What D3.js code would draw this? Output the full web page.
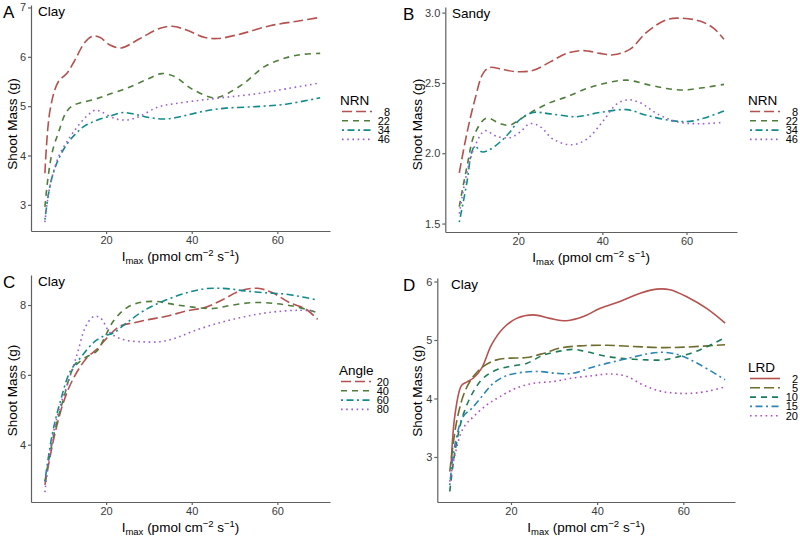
<!DOCTYPE html>
<html><head><meta charset="utf-8">
<script src="https://cdn.jsdelivr.net/npm/d3@7"></script>
<style>body{margin:0;background:#fff}svg{display:block}text{font-family:"Liberation Sans",Arial,sans-serif}</style>
</head><body>
<svg id="c" width="800" height="537"></svg>
<script>
// ---------- DATA ----------
const xTicks = [20, 40, 60];
const ticksA = [3, 4, 5, 6, 7];
const ticksB = [1.5, 2.0, 2.5, 3.0];
const ticksC = [4, 6, 8];
const ticksD = [3, 4, 5, 6];

const legendNRN = ["8", "22", "34", "46"];
const legendAngle = ["20", "40", "60", "80"];
const legendLRD = ["2", "5", "10", "15", "20"];

// Panel A (Clay, NRN)
const A_8  = [[5.7,3.64],[6.9,4.92],[8.8,5.49],[10.9,5.67],[12.5,5.9],[15.1,6.3],[16.9,6.42],[18.6,6.39],[20.9,6.24],[23.5,6.18],[27.9,6.37],[32.6,6.58],[35.4,6.62],[38.6,6.55],[43.1,6.39],[46.1,6.37],[51.3,6.46],[58.3,6.63],[65.3,6.73],[70,6.8]];
const A_22 = [[5.7,2.96],[6.5,3.6],[7.5,4.1],[9,4.5],[10.5,4.85],[12,5.0],[14,5.07],[17,5.13],[20,5.22],[25,5.37],[30,5.56],[33,5.66],[36,5.6],[40,5.35],[45,5.17],[47,5.2],[52,5.45],[57,5.8],[62,5.98],[66,6.05],[70,6.07]];
const A_34 = [[5.7,2.7],[6.5,3.2],[7.5,3.6],[9,3.95],[11,4.25],[13,4.45],[15,4.6],[18,4.72],[21,4.8],[24,4.87],[27,4.83],[30,4.77],[34,4.74],[38,4.8],[43,4.9],[48,4.96],[55,4.99],[62,5.04],[70,5.17]];
const A_46 = [[5.7,2.65],[6.5,3.2],[7.5,3.6],[9,4.0],[11,4.3],[13,4.55],[15.5,4.8],[17.5,4.92],[19,4.88],[22,4.75],[25,4.72],[28,4.8],[32,4.98],[36,5.05],[42,5.12],[48,5.18],[55,5.25],[62,5.35],[70,5.47]];

// Panel B (Sandy, NRN)
const B_8  = [[6,1.86],[7.8,2.14],[9.7,2.38],[11.7,2.57],[13.3,2.61],[15.7,2.6],[19.6,2.58],[23.6,2.59],[27.6,2.65],[31.5,2.71],[35.5,2.73],[39.4,2.71],[42.6,2.7],[46.6,2.74],[50.5,2.86],[55.3,2.95],[58.8,2.96],[63.2,2.94],[66.4,2.89],[68.9,2.81]];
const B_22 = [[6,1.62],[7.8,1.9],[9.7,2.14],[12.5,2.25],[15.7,2.21],[18,2.2],[20.4,2.24],[23.6,2.3],[27.6,2.36],[31.5,2.4],[36.3,2.46],[41,2.5],[45.8,2.52],[50.5,2.49],[55.3,2.46],[59.2,2.45],[64.8,2.47],[68.9,2.49]];
const B_34 = [[6,1.51],[7.8,1.79],[8.9,2.0],[9.7,2.05],[11.3,2.01],[12.9,2.02],[15.7,2.08],[18,2.15],[20.4,2.24],[23.6,2.29],[27.6,2.28],[33.9,2.26],[39.4,2.29],[45.8,2.31],[50.5,2.27],[56.9,2.23],[61.6,2.23],[68.9,2.3]];
const B_46 = [[6,1.57],[7.8,1.86],[9.7,2.05],[12.1,2.16],[14.9,2.12],[18,2.11],[20.4,2.15],[22.8,2.21],[25.2,2.19],[28.3,2.1],[32.7,2.06],[36.3,2.1],[40.2,2.23],[43.4,2.35],[46.2,2.38],[48.9,2.36],[53.7,2.27],[58.4,2.22],[63.2,2.21],[68.9,2.22]];

// Panel C (Clay, Angle)
const C_20 = [[5.7,2.85],[7.8,4.19],[10.1,5.24],[12.4,5.91],[15.5,6.49],[17.8,6.73],[20.2,7.06],[23.3,7.4],[26.4,7.49],[30.2,7.59],[34.1,7.68],[38.8,7.83],[43.4,7.94],[47.3,8.16],[51.2,8.4],[55.4,8.48],[58.9,8.35],[62.8,8.07],[66.7,7.88],[69.4,7.59]];
const C_40 = [[5.7,2.95],[7.8,4.29],[10.1,5.34],[12.4,6.2],[15.1,6.49],[17.8,6.68],[19.4,7.01],[21.7,7.54],[24.8,7.92],[27.9,8.07],[31.8,8.1],[35.7,8.02],[40.3,7.94],[45,7.9],[49.6,8.0],[54.3,8.07],[58.9,8.05],[63.6,7.97],[68.2,7.83],[69.4,7.78]];
const C_60 = [[5.7,2.95],[7.4,4.29],[9.3,5.24],[11.6,6.1],[14,6.49],[17,6.92],[19.4,7.11],[21.7,7.2],[24.8,7.49],[28.7,7.83],[33.3,8.11],[38.8,8.35],[43.4,8.47],[48.1,8.47],[52.7,8.4],[57.4,8.35],[62,8.31],[65.9,8.23],[69.4,8.14]];
const C_80 = [[5.7,2.64],[7,3.9],[8.9,4.96],[11.2,5.82],[13.2,6.58],[15.1,7.35],[16.7,7.64],[17.8,7.68],[19,7.59],[20.9,7.21],[24,7.01],[27.9,6.95],[32.6,6.95],[36.4,7.06],[40.3,7.25],[45,7.44],[49.6,7.59],[55,7.73],[59.7,7.81],[65.1,7.85],[68.5,7.83]];

// Panel D (Clay, LRD)
const D_2  = [[6.1,2.87],[7,3.72],[8.5,4.22],[9.7,4.28],[11.3,4.35],[13.2,4.52],[15.5,4.92],[18.2,5.2],[21.3,5.37],[25.2,5.43],[29,5.37],[32.9,5.33],[36.8,5.4],[40.6,5.54],[45.3,5.66],[50,5.8],[53.8,5.87],[56.9,5.86],[60.8,5.74],[65.4,5.54],[69.7,5.29]];
const D_5  = [[5.8,2.75],[7.4,3.61],[9.3,4.12],[11.3,4.38],[13.6,4.55],[16.7,4.66],[19.8,4.69],[23.6,4.7],[27.5,4.77],[31.3,4.86],[36,4.9],[42.2,4.91],[48.4,4.89],[54.6,4.87],[60.8,4.88],[69.7,4.92]];
const D_10 = [[5.8,2.41],[7,3.09],[8.9,3.72],[11.3,4.12],[13.6,4.35],[16.7,4.49],[19.8,4.55],[23.6,4.6],[27.5,4.74],[31.3,4.81],[34.4,4.84],[37.5,4.8],[42.2,4.72],[46.8,4.68],[51.5,4.66],[55.3,4.66],[59.2,4.72],[63.8,4.83],[69.7,5.04]];
const D_15 = [[5.8,2.52],[7,3.21],[8.9,3.69],[10.9,3.83],[13.2,4.03],[15.9,4.26],[19,4.39],[22.9,4.45],[26.7,4.46],[30.6,4.43],[34.4,4.43],[38.3,4.52],[42.2,4.6],[46.8,4.68],[51.5,4.76],[55.3,4.79],[59.2,4.74],[63.8,4.58],[69.7,4.32]];
const D_20 = [[5.8,2.58],[7,3.04],[8.9,3.49],[11.3,3.69],[14.4,3.89],[17.4,4.03],[21.3,4.18],[25.2,4.26],[29.8,4.29],[34.4,4.35],[39.1,4.39],[42.9,4.42],[46.8,4.38],[50.7,4.23],[54.5,4.13],[58.4,4.09],[62.3,4.09],[66.1,4.13],[69.7,4.2]];

// ---------- STYLES ----------
const colRed = "#b5524f", colGreen = "#4f7d3b", colTeal = "#138a8a", colPurple = "#9a5fd6";
const dashLong = "10 4", dashDash = "6 5", dashDotDash = "2 3.5 7 3.5", dashDot = "1.6 3.6";
const styleNRN = [
  {c: colRed, d: dashLong}, {c: colGreen, d: dashDash}, {c: colTeal, d: dashDotDash}, {c: colPurple, d: dashDot}];
const styleLRD = [
  {c: "#b5524f", d: null}, {c: "#6e6d2e", d: dashLong}, {c: "#1b7d55", d: dashDash},
  {c: "#2c86b5", d: dashDotDash}, {c: "#b347c6", d: dashDot}];

const panels = [
  {tag:"A", title:"Clay", L:31, R:330, T:5, B:231, xd:[2.45,72.3], yd:[2.47,7.05], yt:ticksA, fmt:d3.format("d"),
   series:[A_8,A_22,A_34,A_46], styles:styleNRN, lgTitle:"NRN", lg:legendNRN, lgX:340, lgY:105, tagX:3, titleX:38, ytX:17, ytDy:6},
  {tag:"B", title:"Sandy", L:445.3, R:737, T:7, B:232, xd:[2.68,72.0], yd:[1.44,3.04], yt:ticksB, fmt:d3.format(".1f"),
   series:[B_8,B_22,B_34,B_46], styles:styleNRN, lgTitle:"NRN", lg:legendNRN, lgX:748, lgY:105, tagX:403, titleX:452, ytX:422, ytDy:5},
  {tag:"C", title:"Clay", L:31, R:330, T:275, B:502, xd:[2.45,72.3], yd:[2.36,8.86], yt:ticksC, fmt:d3.format("d"),
   series:[C_20,C_40,C_60,C_80], styles:styleNRN, lgTitle:"Angle", lg:legendAngle, lgX:339, lgY:375, tagX:3, titleX:38, ytX:17, ytDy:2},
  {tag:"D", title:"Clay", L:437.3, R:735, T:278, B:502, xd:[2.9,72.0], yd:[2.23,6.06], yt:ticksD, fmt:d3.format("d"),
   series:[D_2,D_5,D_10,D_15,D_20], styles:styleLRD, lgTitle:"LRD", lg:legendLRD, lgX:748, lgY:372, tagX:403, titleX:451, ytX:422, ytDy:1}
];

const svg = d3.select("#c");
const axisCol = "#606060", tickTxt = "#3a3a3a";

panels.forEach(p => {
  const x = d3.scaleLinear().domain(p.xd).range([p.L, p.R]);
  const y = d3.scaleLinear().domain(p.yd).range([p.B, p.T]);
  const g = svg.append("g");

  // axes
  const gx = g.append("g").attr("transform", `translate(0,${p.B})`)
    .call(d3.axisBottom(x).tickValues(xTicks).tickSize(3).tickPadding(2).tickSizeOuter(0));
  const gy = g.append("g").attr("transform", `translate(${p.L},0)`)
    .call(d3.axisLeft(y).tickValues(p.yt).tickFormat(p.fmt).tickSize(3).tickPadding(2).tickSizeOuter(0));
  [gx, gy].forEach(a => {
    a.select(".domain").attr("stroke", axisCol).attr("stroke-width", 1.2);
    a.selectAll(".tick line").attr("stroke", axisCol).attr("stroke-width", 1.2);
    a.selectAll(".tick text").attr("fill", tickTxt).style("font-size", "11px");
  });

  // lines
  const line = d3.line().x(d => x(d[0])).y(d => y(d[1])).curve(d3.curveCatmullRom.alpha(0.5));
  p.series.forEach((s, i) => {
    const st = p.styles[i];
    g.append("path").datum(s).attr("d", line).attr("fill", "none")
      .attr("stroke", st.c).attr("stroke-width", 1.6)
      .attr("stroke-dasharray", st.d);
  });

  // tags and titles
  g.append("text").attr("x", p.tagX).attr("y", p.T + 13).style("font-size", "17px").text(p.tag);
  g.append("text").attr("x", p.titleX).attr("y", p.T + 11).style("font-size", "13.5px").text(p.title);

  // y title
  g.append("text").attr("transform", `translate(${p.ytX},${(p.T + p.B) / 2 + p.ytDy}) rotate(-90)`)
    .attr("text-anchor", "middle").style("font-size", "13.5px").text("Shoot Mass (g)");

  // x title
  const xt = g.append("text").attr("x", (p.L + p.R) / 2).attr("y", p.B + 30)
    .attr("text-anchor", "middle").style("font-size", "13.5px");
  xt.append("tspan").text("I");
  xt.append("tspan").attr("dy", 3).style("font-size", "9.5px").text("max");
  xt.append("tspan").attr("dy", -3).text(" (pmol cm");
  xt.append("tspan").attr("dy", -5).style("font-size", "9.5px").text("\u22122");
  xt.append("tspan").attr("dy", 5).text(" s");
  xt.append("tspan").attr("dy", -5).style("font-size", "9.5px").text("\u22121");
  xt.append("tspan").attr("dy", 5).text(")");

  // legend
  const lg = g.append("g");
  lg.append("text").attr("x", p.lgX).attr("y", p.lgY).style("font-size", "13.5px").text(p.lgTitle);
  p.lg.forEach((lab, i) => {
    const yy = p.lgY + 6.5 + i * 9.3;
    const st = p.styles[i];
    lg.append("line").attr("x1", p.lgX + 2).attr("x2", p.lgX + 32).attr("y1", yy).attr("y2", yy)
      .attr("stroke", st.c).attr("stroke-width", 1.6).attr("stroke-dasharray", st.d);
    lg.append("text").attr("x", p.lgX + 50).attr("y", yy + 4).attr("text-anchor", "end")
      .style("font-size", "11px").text(lab);
  });
});
</script>
</body></html>
